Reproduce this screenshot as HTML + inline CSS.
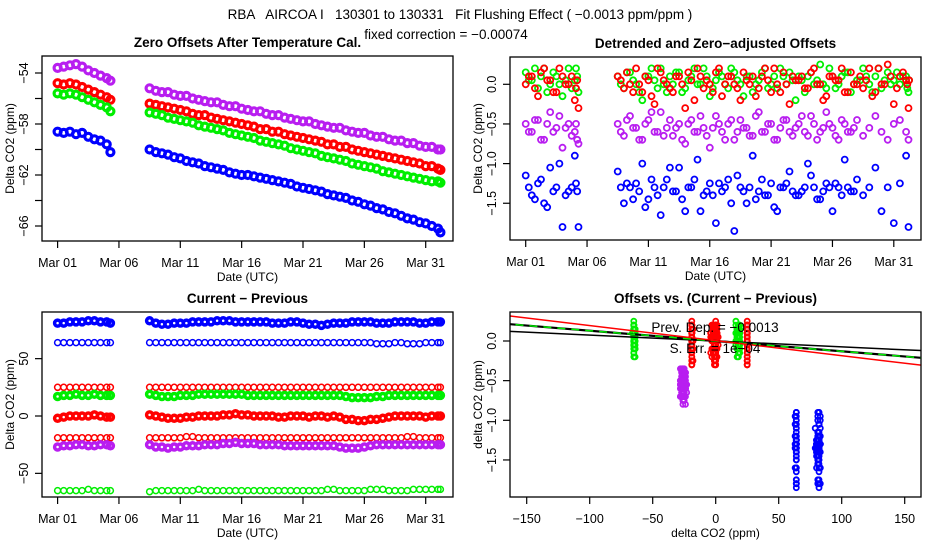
<!DOCTYPE html>
<html><head><meta charset="utf-8">
<style>
html,body{margin:0;padding:0;background:#fff;}
svg{display:block;font-family:"Liberation Sans",sans-serif;}
</style></head>
<body>
<svg id="chart" width="936" height="540" viewBox="0 0 936 540" xmlns="http://www.w3.org/2000/svg">
<text x="460" y="19" font-size="13.5" text-anchor="middle" style="white-space:pre" xml:space="preserve">RBA   AIRCOA I   130301 to 130331   Fit Flushing Effect ( −0.0013 ppm/ppm )</text>
<text x="446" y="39" font-size="13.5" text-anchor="middle">fixed correction = −0.00074</text>
</svg>
<script>
// ---- data ----
const days = [0,0.5,1,1.5,2,2.5,3,3.5,4,4.3,
7.5,8,8.5,9,9.5,10,10.5,11,11.5,12,12.5,13,13.5,14,14.5,15,15.5,16,16.5,17,17.5,18,18.5,19,19.5,20,20.5,21,21.5,22,22.5,23,23.5,24,24.5,25,25.5,26,26.5,27,27.5,28,28.5,29,29.5,30,30.5,31,31.2];
const daysB = [0.25,0.75,1.25,1.75,2.25,2.75,3.25,3.75,4.1,4.2,
7.75,8.25,8.75,9.25,9.75,10.25,10.75,11.25,11.75,12.25,12.75,13.25,13.75,14.25,14.75,15.25,15.75,16.25,16.75,17.25,17.75,18.25,18.75,19.25,19.75,20.25,20.75,21.25,21.75,22.25,22.75,23.25,23.75,24.25,24.75,25.25,25.75,26.25,26.75,27.25,27.75,28.25,28.75,29.25,29.75,30.25,30.75,31.1,31.25];
const dateTicks = [0,5,10,15,20,25,30];
const dateLabels = ["Mar 01","Mar 06","Mar 11","Mar 16","Mar 21","Mar 26","Mar 31"];

const offPurple = [-53.6,-53.5,-53.4,-53.3,-53.5,-53.8,-54.0,-54.2,-54.4,-54.6,
-55.2,-55.4,-55.5,-55.5,-55.7,-55.8,-55.8,-56.0,-56.1,-56.2,-56.3,-56.3,-56.5,-56.6,-56.6,-56.8,-56.9,-57.0,-57.0,-57.2,-57.3,-57.3,-57.5,-57.6,-57.7,-57.8,-57.8,-58.0,-58.1,-58.2,-58.3,-58.3,-58.5,-58.6,-58.7,-58.7,-58.9,-59.0,-59.0,-59.2,-59.3,-59.3,-59.5,-59.5,-59.7,-59.8,-59.8,-60.0,-60.0];
const offRed = [-54.8,-54.9,-54.8,-54.9,-55.1,-55.3,-55.5,-55.7,-55.9,-56.1,
-56.4,-56.5,-56.6,-56.7,-56.8,-56.9,-57.0,-57.2,-57.3,-57.3,-57.5,-57.6,-57.7,-57.8,-57.9,-58.0,-58.1,-58.2,-58.4,-58.4,-58.6,-58.6,-58.8,-58.9,-59.0,-59.1,-59.2,-59.3,-59.4,-59.6,-59.6,-59.8,-59.8,-60.0,-60.1,-60.2,-60.3,-60.4,-60.5,-60.6,-60.7,-60.8,-60.9,-61.0,-61.1,-61.3,-61.3,-61.5,-61.6];
const offGreen = [-55.6,-55.7,-55.6,-55.7,-55.9,-56.1,-56.3,-56.5,-56.7,-57.0,
-57.1,-57.2,-57.3,-57.5,-57.6,-57.7,-57.8,-57.9,-58.1,-58.2,-58.3,-58.4,-58.5,-58.7,-58.8,-58.9,-59.0,-59.1,-59.3,-59.4,-59.5,-59.6,-59.7,-59.9,-60.0,-60.1,-60.2,-60.3,-60.5,-60.6,-60.7,-60.8,-60.9,-61.1,-61.2,-61.3,-61.4,-61.5,-61.7,-61.8,-61.9,-62.0,-62.1,-62.2,-62.3,-62.4,-62.5,-62.5,-62.6];
const offBlue = [-58.6,-58.7,-58.6,-58.8,-58.7,-59.0,-59.2,-59.3,-59.6,-60.2,
-60.0,-60.2,-60.3,-60.4,-60.6,-60.7,-60.9,-61.0,-61.1,-61.3,-61.4,-61.5,-61.6,-61.8,-61.9,-62.0,-62.0,-62.1,-62.2,-62.3,-62.4,-62.5,-62.6,-62.7,-62.9,-63.0,-63.1,-63.2,-63.3,-63.5,-63.6,-63.7,-63.8,-64.0,-64.1,-64.3,-64.4,-64.6,-64.7,-64.9,-65.0,-65.2,-65.4,-65.5,-65.7,-65.8,-66.0,-66.2,-66.5];
const offTicks = [-54,-56,-58,-60,-62,-64,-66];
const offLabels = ["-54","","-58","","-62","","-66"];

const resGreen = [0.15,0.05,-0.05,0.2,0.0,0.1,-0.15,0.2,0.05,-0.1,
0.1,-0.05,0.15,0.0,-0.2,0.1,0.05,0.2,-0.1,0.0,0.15,-0.05,0.1,0.0,0.2,-0.15,0.05,0.1,-0.05,0.15,0.0,0.1,-0.1,0.05,0.2,0.0,-0.05,0.1,0.15,-0.2,0.05,0.1,0.0,0.25,-0.05,0.1,0.0,0.15,-0.1,0.05,0.2,0.0,0.1,-0.05,0.15,0.05,0.0,0.1,-0.1];
const resGreen2 = [0.05,0.2,0.1,-0.1,0.15,0.0,0.05,-0.05,0.2,0.1,
0.0,0.15,0.05,-0.1,0.1,0.2,-0.05,0.0,0.1,0.15,-0.1,0.05,0.2,0.0,0.1,-0.05,0.15,0.0,0.2,0.05,-0.15,0.1,0.0,0.15,-0.05,0.1,0.2,0.0,0.05,0.1,-0.1,0.15,0.05,0.0,0.2,-0.05,0.1,0.15,0.0,0.05,0.1,-0.1,0.2,0.05,0.0,0.15,0.1,-0.05,0.05];
const resRed = [0.0,0.1,-0.15,0.2,0.05,-0.1,0.1,0.0,-0.2,-0.3,
0.1,-0.05,0.0,0.2,-0.1,0.05,-0.25,0.15,0.0,-0.1,0.1,-0.3,0.05,0.2,-0.05,0.0,0.15,-0.15,0.1,0.0,-0.2,0.05,0.1,-0.05,0.2,-0.1,0.0,0.15,-0.25,0.05,0.1,-0.05,0.2,0.0,-0.15,0.1,0.05,-0.1,0.15,0.0,-0.05,0.2,-0.1,0.0,0.25,-0.25,0.1,0.05,-0.3];
const resRed2 = [0.1,-0.05,0.15,0.05,-0.1,0.2,0.0,0.1,-0.05,0.05,
0.05,0.15,-0.1,0.0,0.1,-0.15,0.2,0.05,-0.05,0.1,0.0,0.15,-0.2,0.1,0.05,-0.1,0.2,0.0,0.1,-0.05,0.15,0.0,-0.15,0.1,0.05,0.2,-0.1,0.0,0.1,0.05,-0.05,0.15,0.0,-0.2,0.1,0.05,0.2,-0.1,0.0,0.1,0.05,-0.15,0.2,0.0,0.1,-0.05,0.15,0.0,0.05];
const resPurple = [-0.5,-0.6,-0.45,-0.7,-0.35,-0.55,-0.8,-0.5,-0.6,-0.75,
-0.5,-0.65,-0.4,-0.55,-0.7,-0.45,-0.6,-0.35,-0.55,-0.65,-0.5,-0.75,-0.45,-0.6,-0.55,-0.8,-0.4,-0.6,-0.5,-0.7,-0.45,-0.55,-0.65,-0.35,-0.6,-0.5,-0.7,-0.45,-0.6,-0.55,-0.4,-0.65,-0.5,-0.6,-0.35,-0.55,-0.7,-0.5,-0.6,-0.45,-0.65,-0.55,-0.4,-0.6,-0.7,-0.5,-0.45,-0.6,-0.7];
const resPurple2 = [-0.6,-0.45,-0.7,-0.5,-0.6,-0.4,-0.55,-0.65,-0.5,-0.7,
-0.6,-0.45,-0.55,-0.7,-0.5,-0.35,-0.6,-0.65,-0.45,-0.55,-0.7,-0.5,-0.6,-0.4,-0.65,-0.55,-0.5,-0.7,-0.45,-0.6,-0.55,-0.65,-0.4,-0.6,-0.5,-0.7,-0.55,-0.45,-0.65,-0.5,-0.6,-0.4,-0.7,-0.55,-0.5,-0.65,-0.45,-0.6,-0.55];
const resBlue = [-1.15,-1.4,-1.25,-1.5,-1.05,-1.3,-1.8,-1.35,-0.9,-1.8,
-1.1,-1.5,-1.3,-1.25,-1.0,-1.45,-1.3,-1.65,-1.2,-1.35,-1.05,-1.6,-1.3,-0.95,-1.4,-1.25,-1.75,-1.35,-1.2,-1.85,-1.3,-1.5,-0.9,-1.35,-1.4,-1.25,-1.6,-1.3,-1.1,-1.4,-1.35,-1.0,-1.3,-1.45,-1.25,-1.6,-1.3,-0.95,-1.35,-1.2,-1.4,-1.3,-1.05,-1.6,-1.3,-1.75,-1.25,-0.9,-1.8];
const resBlue2 = [-1.3,-1.45,-1.2,-1.55,-1.35,-1.0,-1.4,-1.3,-1.25,-1.35,
-1.3,-1.25,-1.45,-1.35,-1.55,-1.2,-1.4,-1.3,-1.05,-1.35,-1.45,-1.3,-1.2,-1.6,-1.35,-1.4,-1.25,-1.3,-1.5,-1.15,-1.35,-1.3,-1.45,-1.2,-1.4,-1.55,-1.3,-1.25,-1.35,-1.4,-1.3,-1.15,-1.45,-1.35,-1.3,-1.25,-1.4,-1.3,-1.35];
const resTicks = [0,-0.5,-1.0,-1.5];
const resLabels = ["0.0","-0.5","-1.0","-1.5"];

const cpBlueHi = [81,81,82,82,82,83,83,82,82,81,
83,81,80,80,81,81,81,82,82,82,82,83,83,83,82,82,82,82,82,82,81,81,81,82,82,81,80,80,79,80,81,81,81,82,82,82,82,81,81,81,82,82,82,82,81,81,82,82,82];
const cpBlueLo = [64,64,64,64,64,64,64,64,64,64,
64,64,64,64,64,64,64,64,64,64,64,64,64,64,64,64,64,64,64,64,64,64,64,64,64,64,64,64,64,64,64,64,64,64,64,64,64,63,63,63,64,64,63,63,63,64,64,64,64];
const cpRedHi = [25,25,25,25,25,25,25,25,25,25,
25,25,25,25,25,25,25,25,25,25,25,25,25,25,25,25,25,25,25,25,25,25,25,25,25,25,25,25,25,25,25,25,25,25,25,25,25,25,25,25,25,25,25,25,25,25,25,25,25];
const cpGreenHi = [17,18,18,19,18,18,19,18,18,18,
19,18,17,17,17,18,18,18,19,19,19,19,19,19,19,19,18,18,18,18,18,18,18,18,18,18,18,18,18,18,18,18,17,16,16,16,16,17,17,18,18,18,18,18,18,18,18,18,18];
const cpRedMid = [-2,-1,0,0,0,0,1,0,-1,-1,
1,0,-1,-2,-2,-2,-1,-1,0,0,0,0,1,1,2,1,1,0,0,0,0,-1,-1,0,0,0,-1,0,0,-1,0,-1,-3,-3,-4,-4,-3,-3,-2,-1,0,0,0,0,0,-1,0,0,0];
const cpRedLo = [-19,-19,-19,-19,-19,-19,-19,-19,-19,-19,
-19,-19,-19,-19,-19,-19,-18,-18,-19,-19,-19,-19,-19,-19,-19,-19,-19,-19,-19,-19,-19,-19,-19,-19,-19,-19,-19,-19,-19,-19,-19,-19,-19,-19,-19,-19,-19,-19,-19,-19,-19,-19,-18,-18,-19,-19,-19,-19,-19];
const cpPurple = [-27,-26,-26,-25,-25,-26,-26,-25,-25,-26,
-25,-27,-27,-28,-27,-27,-26,-26,-26,-25,-25,-25,-24,-24,-23,-24,-24,-24,-25,-25,-25,-25,-26,-26,-26,-26,-26,-26,-26,-26,-26,-27,-28,-28,-28,-27,-26,-25,-25,-25,-25,-25,-25,-25,-25,-25,-25,-25,-25];
const cpGreenLo = [-65,-65,-65,-65,-65,-64,-65,-65,-65,-65,
-66,-65,-65,-65,-65,-65,-65,-65,-64,-65,-65,-65,-65,-65,-65,-65,-65,-65,-65,-65,-65,-65,-65,-65,-65,-65,-65,-65,-65,-64,-64,-65,-65,-65,-65,-65,-64,-64,-64,-65,-65,-65,-65,-64,-64,-64,-64,-64,-64];
const cpTicks = [50,0,-50];
const cpLabels = ["50","0","-50"];

const xTicks4 = [-150,-100,-50,0,50,100,150];
const xLabels4 = ["-150","-100","-50","0","50","100","150"];
const fitSlopes = [-0.00074,-0.0013,-0.0013,-0.0019];
const fitIntercepts = [0.0,0.0,0.0,0.005];
const fitNames = ["fixed-correction-line","fit-line-black","fit-line-green","fit-line-red"];

// ---- drawing ----
const NS="http://www.w3.org/2000/svg";
const svg=document.getElementById('chart');
function mk(tag,attrs,parent){const e=document.createElementNS(NS,tag);for(const k in attrs)e.setAttribute(k,attrs[k]);(parent||svg).appendChild(e);return e;}
const COL={green:"#00ee00",red:"#ff0000",blue:"#0000ff",purple:"#b81ef0"};

function panel(p){
  const g=mk('g',{});
  
  
  p.g=g;
  return g;
}
function frame(p){
  const r=mk('rect',{x:p.L,y:p.T,width:p.R-p.L,height:p.B-p.T,fill:'none',stroke:'#000','stroke-width':1.3},p.g);
  
  
  const t=mk('text',{x:(p.L+p.R)/2,y:p.T-9,'font-size':13.5,'font-weight':'bold','text-anchor':'middle'},p.g);
  t.textContent=p.title;
  
  
  p.xt.forEach((v,i)=>{
    const x=p.sx(v);
    const l=mk('line',{x1:x,x2:x,y1:p.B,y2:p.B+7,stroke:'#000','stroke-width':1.2},p.g);
    
    
    const tx=mk('text',{x:x,y:p.B+26,'font-size':12.5,'text-anchor':'middle'},p.g);
    tx.textContent=p.xl[i].replace('-','−');
    
    
  });
  p.yt.forEach((v,i)=>{
    const y=p.sy(v);
    const l=mk('line',{x1:p.L-7,x2:p.L,y1:y,y2:y,stroke:'#000','stroke-width':1.2},p.g);
    
    
    if(p.yl[i]){
      const tx=mk('text',{x:0,y:0,'font-size':12.5,'text-anchor':'middle',transform:`translate(${p.L-14},${y}) rotate(-90)`},p.g);
      tx.textContent=p.yl[i].replace('-','−');
      
      
    }
  });
  const xa=mk('text',{x:(p.L+p.R)/2,y:p.B+40,'font-size':12,'text-anchor':'middle'},p.g);
  xa.textContent=p.xtitle;
  
  
  const ya=mk('text',{x:0,y:0,'font-size':12,'text-anchor':'middle',transform:`translate(${p.L-28},${(p.T+p.B)/2}) rotate(-90)`},p.g);
  ya.textContent=p.ytitle;
  
  
}
function points(p,xs,ys,color,name,r,sw){
  const g=mk('g',{fill:'none',stroke:color,'stroke-width':sw},p.g);
  
  
  const n=Math.min(xs.length,ys.length);
  for(let i=0;i<n;i++){
    const c=mk('circle',{cx:p.sx(xs[i]).toFixed(1),cy:p.sy(ys[i]).toFixed(1),r:r},g);
    
    
  }
}

// Panel 1
const p1={name:'zero-offsets-panel',L:42,R:453,T:56,B:241,title:'Zero Offsets After Temperature Cal.',
  sx:d=>57.6+d*12.27, sy:v=>73+(-54-v)*12.75, xt:dateTicks, xl:dateLabels, yt:offTicks, yl:offLabels,
  xtitle:'Date (UTC)', ytitle:'Delta CO2 (ppm)'};
panel(p1);
points(p1,days,offPurple,COL.purple,'offset-purple',3.5,3.2);
points(p1,days,offRed,COL.red,'offset-red',3.5,3.2);
points(p1,days,offGreen,COL.green,'offset-green',3.5,3.2);
points(p1,days,offBlue,COL.blue,'offset-blue',3.5,3.2);
frame(p1);

// Panel 2
const p2={name:'detrended-offsets-panel',L:510,R:921,T:57,B:240,title:'Detrended and Zero\u2212adjusted Offsets',
  sx:d=>525.7+d*12.27, sy:v=>84.3-v*79.3, xt:dateTicks, xl:dateLabels, yt:resTicks, yl:resLabels,
  xtitle:'Date (UTC)', ytitle:'Delta CO2 (ppm)'};
panel(p2);
points(p2,days,resPurple,COL.purple,'residual-purple',3,1.8);
points(p2,daysB,resPurple2,COL.purple,'residual-purple-b',3,1.8);
points(p2,days,resBlue,COL.blue,'residual-blue',3,1.8);
points(p2,daysB,resBlue2,COL.blue,'residual-blue-b',3,1.8);
points(p2,days,resGreen,COL.green,'residual-green',3,1.8);
points(p2,daysB,resGreen2,COL.green,'residual-green-b',3,1.8);
points(p2,days,resRed,COL.red,'residual-red',3,1.8);
points(p2,daysB,resRed2,COL.red,'residual-red-b',3,1.8);
frame(p2);

// Panel 3
const p3={name:'current-minus-previous-panel',L:42,R:453,T:312,B:497,title:'Current \u2212 Previous',
  sx:d=>57.6+d*12.27, sy:v=>416-v*1.147, xt:dateTicks, xl:dateLabels, yt:cpTicks, yl:cpLabels,
  xtitle:'Date (UTC)', ytitle:'Delta CO2 (ppm)'};
panel(p3);
points(p3,days,cpBlueHi,COL.blue,'cp-blue-high',3,3.5);
points(p3,days,cpBlueLo,COL.blue,'cp-blue-low',3,1.5);
points(p3,days,cpRedHi,COL.red,'cp-red-high',3,1.5);
points(p3,days,cpGreenHi,COL.green,'cp-green-high',3,3.5);
points(p3,days,cpRedMid,COL.red,'cp-red-mid',3,3.5);
points(p3,days,cpRedLo,COL.red,'cp-red-low',3,1.5);
points(p3,days,cpPurple,COL.purple,'cp-purple',3,3.5);
points(p3,days,cpGreenLo,COL.green,'cp-green-low',3,1.5);
frame(p3);

// Panel 4
const p4={name:'offsets-vs-diff-panel',L:510,R:921,T:312,B:497,title:'Offsets vs. (Current \u2212 Previous)',
  sx:v=>715.7+v*1.26, sy:v=>341-v*79.3, xt:xTicks4, xl:xLabels4, yt:resTicks, yl:resLabels,
  xtitle:'delta CO2 (ppm)', ytitle:'delta CO2 (ppm)'};
panel(p4);
points(p4,cpPurple,resPurple,COL.purple,'scatter-purple',2.5,1.8);
points(p4,cpPurple,resPurple2,COL.purple,'scatter-purple-b',2.5,1.8);
points(p4,cpBlueLo,resBlue,COL.blue,'scatter-blue-low',2.5,1.8);
points(p4,cpBlueHi,resBlue,COL.blue,'scatter-blue-high',2.5,1.8);
points(p4,cpBlueHi,resBlue2,COL.blue,'scatter-blue-high-b',2.5,1.8);
points(p4,cpGreenLo,resGreen,COL.green,'scatter-green-low',2.5,1.8);
points(p4,cpGreenHi,resGreen,COL.green,'scatter-green-high',2.5,1.8);
points(p4,cpGreenHi,resGreen2,COL.green,'scatter-green-high-b',2.5,1.8);
points(p4,cpRedLo,resRed,COL.red,'scatter-red-low',2.5,1.8);
points(p4,cpRedMid,resRed,COL.red,'scatter-red-mid',2.5,1.8);
points(p4,cpRedMid,resRed2,COL.red,'scatter-red-mid-b',2.5,1.8);
points(p4,cpRedHi,resRed,COL.red,'scatter-red-high',2.5,1.8);
const clip=mk('clipPath',{id:'clip4'});
mk('rect',{x:p4.L,y:p4.T,width:p4.R-p4.L,height:p4.B-p4.T},clip);
const lineStyles=[{c:'#000',w:1.5,d:''},{c:'#000',w:2.2,d:''},{c:'#00ee00',w:1.5,d:'8,6'},{c:'#ff0000',w:1.5,d:''}];
fitSlopes.forEach((s,i)=>{
  const x0=-170,x1=170;
  const l=mk('line',{x1:p4.sx(x0),y1:p4.sy(fitIntercepts[i]+s*x0),x2:p4.sx(x1),y2:p4.sy(fitIntercepts[i]+s*x1),
    stroke:lineStyles[i].c,'stroke-width':lineStyles[i].w,'stroke-dasharray':lineStyles[i].d,'clip-path':'url(#clip4)'},p4.g);
  
  
});
const t1=mk('text',{x:715,y:332,'font-size':13.5,'text-anchor':'middle'},p4.g);
t1.textContent='Prev. Dep. =  −0.0013';


const t2=mk('text',{x:715,y:353,'font-size':13.5,'text-anchor':'middle'},p4.g);
t2.textContent='S. Err. =  1e−04';


frame(p4);
</script>
</body></html>
